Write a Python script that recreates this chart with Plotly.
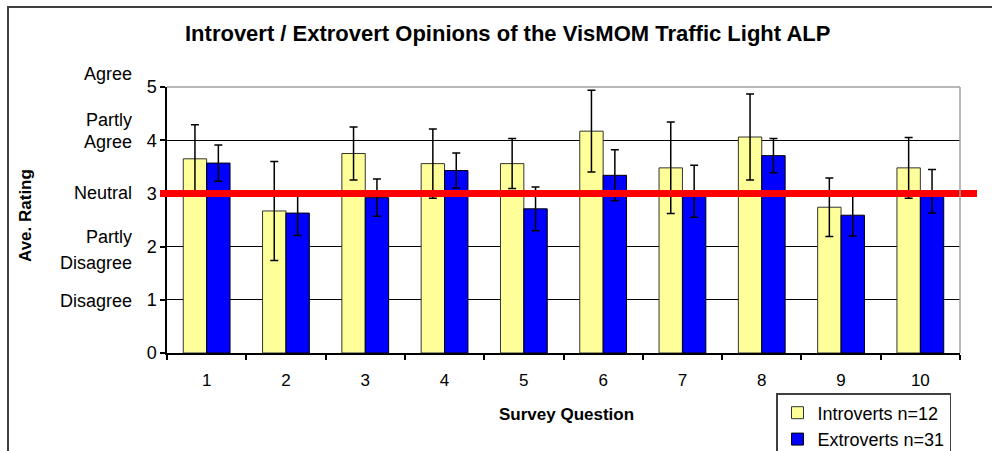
import plotly.graph_objects as go

# Survey data: mean ratings and error ranges per question
questions = ["1", "2", "3", "4", "5", "6", "7", "8", "9", "10"]
introvert_mean = [3.65, 2.67, 3.75, 3.56, 3.56, 4.17, 3.48, 4.06, 2.74, 3.48]
introvert_err = [0.64, 0.93, 0.50, 0.65, 0.47, 0.77, 0.86, 0.81, 0.55, 0.57]
extrovert_mean = [3.57, 2.63, 2.92, 3.43, 2.71, 3.34, 3.04, 3.71, 2.59, 3.04]
extrovert_err = [0.34, 0.42, 0.35, 0.33, 0.41, 0.48, 0.49, 0.32, 0.39, 0.41]

# Verbal scale labels shown beside the rating axis (text, rating position)
scale_labels = [
    ("Agree", 5.24),
    ("Partly", 4.38),
    ("Agree", 3.96),
    ("Neutral", 3.0),
    ("Partly", 2.18),
    ("Disagree", 1.70),
    ("Disagree", 0.98),
]
neutral_value = 3
y_range = [0, 5]

W, H = 992, 451
ML, MR, MT, MB = 167, 32, 87, 98
PW, PH = W - ML - MR, H - MT - MB


def px_x(p):
    return (p - ML) / PW


def px_y(p):
    return (H - MB - p) / PH


def val_y(v):
    return (v - y_range[0]) / (y_range[1] - y_range[0])


FONT = "Liberation Sans, Arial, sans-serif"

fig = go.Figure()
fig.add_trace(go.Bar(
    x=questions, y=introvert_mean, name="Introverts n=12",
    legendgroup="a",
    marker=dict(color="#FFFF99", line=dict(color="#333333", width=1)),
    error_y=dict(type="data", array=introvert_err, color="black",
                 thickness=1.5, width=4),
))
fig.add_trace(go.Bar(
    x=questions, y=extrovert_mean, name="Extroverts n=31",
    legendgroup="b",
    marker=dict(color="#0000FF", line=dict(color="black", width=1)),
    error_y=dict(type="data", array=extrovert_err, color="black",
                 thickness=1.5, width=4),
))

shapes = [
    # neutral reference line
    dict(type="line", xref="paper", yref="y", x0=px_x(160), x1=px_x(977),
         y0=neutral_value, y1=neutral_value,
         line=dict(color="#FF0000", width=7), layer="above"),
    # light frame on top and right of the plot area
    dict(type="line", xref="paper", yref="paper", x0=0, x1=1, y0=1, y1=1,
         line=dict(color="#A0A0A0", width=1.5), layer="above"),
    dict(type="line", xref="paper", yref="paper", x0=1, x1=1, y0=0, y1=1,
         line=dict(color="#A0A0A0", width=1.5), layer="above"),
    # outer chart border
    dict(type="rect", xref="paper", yref="paper",
         x0=px_x(8), x1=px_x(1010), y0=px_y(470), y1=px_y(7),
         line=dict(color="#404040", width=2), layer="below"),
]

annotations = [
    dict(text="<b>Introvert / Extrovert Opinions of the VisMOM Traffic Light ALP</b>",
         xref="paper", yref="paper", x=px_x(507), y=px_y(33),
         xanchor="center", yanchor="middle", showarrow=False,
         font=dict(family=FONT, size=22, color="black")),
    dict(text="<b>Ave. Rating</b>", textangle=-90,
         xref="paper", yref="paper", x=px_x(25), y=px_y(216),
         xanchor="center", yanchor="middle", showarrow=False,
         font=dict(family=FONT, size=17, color="black")),
    dict(text="<b>Survey Question</b>",
         xref="paper", yref="paper", x=px_x(566), y=px_y(414),
         xanchor="center", yanchor="middle", showarrow=False,
         font=dict(family=FONT, size=17, color="black")),
]
for label, pos in scale_labels:
    annotations.append(dict(
        text=label, xref="paper", yref="paper", x=px_x(134), y=val_y(pos),
        xanchor="right", yanchor="middle", showarrow=False,
        font=dict(family=FONT, size=18, color="black")))

fig.update_layout(
    width=W, height=H,
    margin=dict(l=ML, r=MR, t=MT, b=MB, autoexpand=False),
    paper_bgcolor="white", plot_bgcolor="white",
    barmode="group", bargap=0.41, bargroupgap=0,
    font=dict(family=FONT, size=17, color="black"),
    shapes=shapes, annotations=annotations,
    legend=dict(
        x=px_x(776), y=px_y(393), xanchor="left", yanchor="top",
        bordercolor="#404040", borderwidth=1.5, bgcolor="white",
        font=dict(family=FONT, size=18, color="black"),
        traceorder="grouped", tracegroupgap=0, itemwidth=30,
    ),
    xaxis=dict(
        type="category", showgrid=False, showline=True,
        linecolor="black", linewidth=1.5,
        ticks="outside", tickson="boundaries", ticklen=5,
        tickcolor="black", tickwidth=1.5, ticklabelstandoff=11,
        tickfont=dict(family=FONT, size=17),
    ),
    yaxis=dict(
        range=y_range, dtick=1, showgrid=True, gridcolor="black",
        gridwidth=1, zeroline=False, showline=True,
        linecolor="black", linewidth=1.5,
        ticks="outside", ticklen=5, tickcolor="black", tickwidth=1.5,
        tickfont=dict(family=FONT, size=18),
    ),
)

fig.write_html("out.html")
